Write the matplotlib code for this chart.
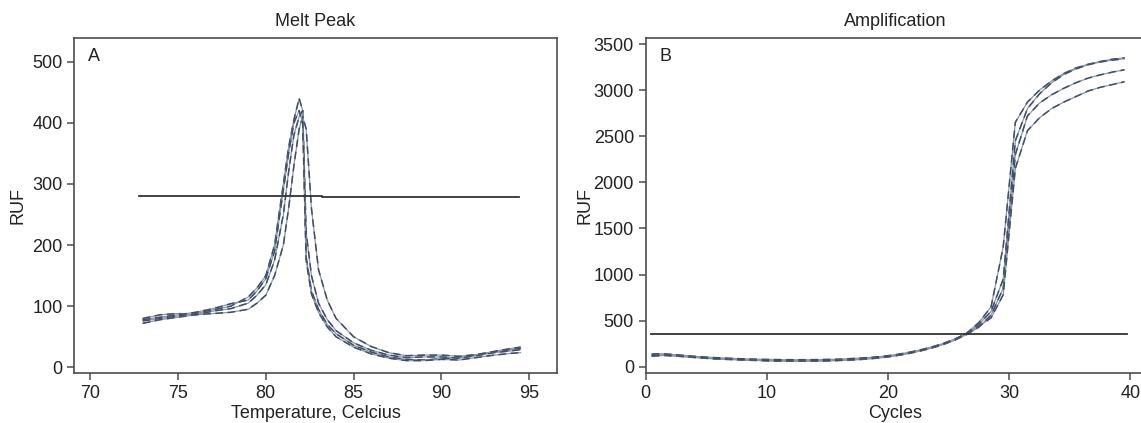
import numpy as np
import matplotlib.pyplot as plt

plt.rcParams['font.family'] = ['Liberation Sans', 'DejaVu Sans']

# melt peak data (temperature, -dF/dT)
temps = [73, 74, 75, 76, 77, 78, 79, 79.5, 80, 80.5, 81, 81.3, 81.6, 81.9, 82.1, 82.3,
         82.6, 83, 83.5, 84, 85, 86, 87, 88, 89, 90, 91, 92, 93, 94, 94.5]
melt_a = [76, 80, 84, 88, 94, 100, 115, 130, 150, 200, 300, 360, 405, 440, 420, 180,
          125, 95, 70, 55, 36, 25, 17, 13, 12, 14, 16, 20, 25, 29, 31]
melt_b = [80, 86, 88, 86, 92, 96, 105, 118, 135, 175, 250, 320, 380, 410, 420, 220,
          150, 105, 78, 60, 40, 28, 20, 16, 17, 17, 15, 19, 24, 27, 29]
melt_c = [72, 78, 82, 86, 88, 90, 95, 105, 118, 150, 200, 260, 330, 390, 410, 390,
          260, 160, 110, 80, 50, 34, 24, 19, 20, 20, 18, 21, 26, 31, 33]
melt_d = [78, 82, 86, 90, 96, 104, 110, 125, 145, 190, 290, 350, 400, 420, 400, 175,
          120, 90, 66, 50, 33, 22, 15, 11, 11, 13, 12, 16, 20, 23, 24]
melt_thresh_x = [72.8, 83.2, 83.2, 94.4]
melt_thresh_y = [281, 281, 278, 278]

# amplification data
cycles = np.arange(1, 41) - 0.5
amp_1 = [125, 130, 120, 110, 100, 92, 86, 80, 75, 70, 68, 66, 66, 66, 68, 70, 75, 82, 92, 105,
         122, 145, 172, 205, 245, 295, 365, 480, 650, 1300, 2650, 2870, 3000, 3100, 3180, 3240,
         3280, 3310, 3335, 3350]
amp_2 = [115, 122, 115, 105, 95, 86, 80, 75, 70, 66, 62, 60, 60, 60, 62, 65, 70, 76, 85, 98,
         115, 138, 165, 198, 238, 288, 350, 430, 560, 850, 2300, 2720, 2860, 2950, 3020, 3080,
         3130, 3165, 3195, 3220]
amp_3 = [138, 140, 130, 118, 108, 100, 94, 88, 84, 80, 78, 76, 76, 76, 78, 80, 85, 92, 100, 112,
         128, 150, 178, 210, 250, 300, 360, 440, 530, 780, 2150, 2560, 2700, 2800, 2870, 2930,
         2990, 3030, 3060, 3090]
amp_4 = [120, 126, 118, 108, 98, 90, 84, 78, 74, 70, 66, 64, 63, 63, 65, 68, 72, 80, 90, 102,
         120, 143, 170, 203, 243, 292, 360, 460, 600, 950, 2450, 2800, 2960, 3080, 3170, 3230,
         3275, 3305, 3325, 3340]
amp_thresh_x = [0.4, 19.3, 19.3, 39.7]
amp_thresh_y = [356, 356, 350, 350]

light_col = '#8d96a6'
dark_col = '#3f4e68'
text_col = '#222222'
spine_col = '#4d4d4d'


def draw_curve(ax, x, y):
    # thin grey trace with darker broken overlay, like the scanned original
    ax.plot(x, y, color=light_col, lw=0.9)
    ax.plot(x, y, color=dark_col, lw=1.1, dashes=(5, 3))


def style(ax):
    for s in ax.spines.values():
        s.set_color(spine_col)
        s.set_linewidth(1.2)
    ax.tick_params(direction='out', length=5, width=1.1, color=spine_col,
                   labelsize=13, labelcolor=text_col, top=False, right=False, pad=3.5)


fig = plt.figure(figsize=(11.41, 4.23), dpi=100)
ax1 = fig.add_axes([74.3 / 1141, 50.3 / 423, 482.4 / 1141, 334.4 / 423])
ax2 = fig.add_axes([645.7 / 1141, 50.3 / 423, 499.3 / 1141, 334.4 / 423])

for y in (melt_a, melt_b, melt_c, melt_d):
    draw_curve(ax1, temps, y)
ax1.plot(melt_thresh_x, melt_thresh_y, color='#333333', lw=1.3)
ax1.set_xlim(69.1, 96.56)
ax1.set_ylim(-8.8, 538.3)
ax1.set_xticks([70, 75, 80, 85, 90, 95])
ax1.set_yticks([0, 100, 200, 300, 400, 500])
ax1.set_title('Melt Peak', fontsize=13, color=text_col, pad=9)
ax1.set_xlabel('Temperature, Celcius', fontsize=13, color=text_col, labelpad=2.5)
ax1.set_ylabel('RUF', fontsize=13, color=text_col, labelpad=4)
ax1.text(0.041, 0.947, 'A', transform=ax1.transAxes, fontsize=13, color=text_col,
         ha='center', va='center')
style(ax1)

for y in (amp_1, amp_2, amp_3, amp_4):
    draw_curve(ax2, cycles, y)
ax2.plot(amp_thresh_x, amp_thresh_y, color='#333333', lw=1.3)
ax2.set_xlim(0, 41.2)
ax2.set_ylim(-65, 3562)
ax2.set_xticks([0, 10, 20, 30, 40])
ax2.set_yticks([0, 500, 1000, 1500, 2000, 2500, 3000, 3500])
ax2.set_title('Amplification', fontsize=13, color=text_col, pad=9)
ax2.set_xlabel('Cycles', fontsize=13, color=text_col, labelpad=2.5)
ax2.set_ylabel('RUF', fontsize=13, color=text_col, labelpad=0)
ax2.text(0.040, 0.947, 'B', transform=ax2.transAxes, fontsize=13, color=text_col,
         ha='center', va='center')
style(ax2)

fig.savefig('out.png', dpi=100)
